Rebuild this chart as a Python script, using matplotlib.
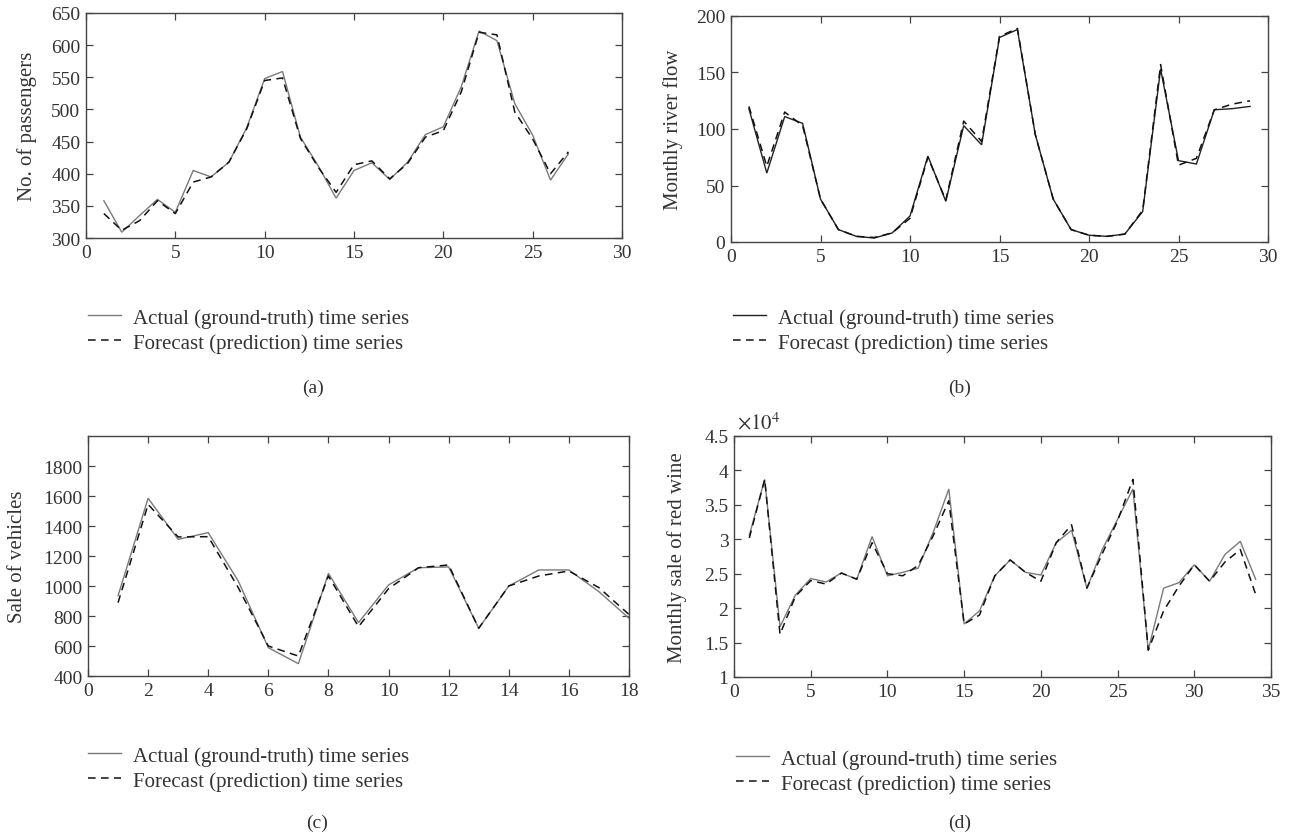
"""Actual vs forecast time series, four panels (a)-(d)."""
import matplotlib
matplotlib.use("Agg")
import matplotlib.pyplot as plt
from matplotlib.ticker import FuncFormatter

W, H = 1301, 837

# (a) airline passengers
a_x = list(range(1, 28))
a_actual = [358, 309, 335, 360, 340, 405, 395, 418, 472, 548, 559, 457, 412, 362,
            405, 417, 391, 418, 461, 473, 535, 622, 607, 509, 460, 390, 431]
a_forecast = [338, 312, 327, 358, 338, 387, 395, 418, 470, 545, 549, 455, 410, 371,
              414, 420, 392, 416, 457, 467, 527, 620, 616, 496, 454, 400, 434]

# (b) monthly river flow
b_x = list(range(1, 30))
b_actual = [118, 61, 111, 105, 38, 11, 5, 3.5, 8, 23, 76, 36, 103, 86, 181, 188, 95,
            38, 11, 6, 5, 7, 27, 153, 72, 69, 117, 118, 120]
b_forecast = [120, 67, 115, 103, 38, 11, 5, 4, 8, 21, 75, 37, 107, 89, 182, 189, 95,
              38, 11, 6, 5, 7, 28, 157, 68, 74, 117, 122, 125]

# (c) vehicle sales
c_x = list(range(1, 19))
c_actual = [935, 1585, 1311, 1356, 1033, 589, 482, 1084, 756, 1007, 1122, 1127, 718,
            1000, 1107, 1107, 962, 785]
c_forecast = [889, 1544, 1327, 1329, 989, 600, 533, 1067, 729, 982, 1122, 1140, 718,
              1000, 1067, 1100, 989, 810]

# (d) red wine sales
d_x = list(range(1, 35))
d_actual = [30600, 38700, 17300, 21900, 24300, 23800, 25100, 24200, 30400, 24700,
            25200, 25800, 31100, 37300, 17700, 19600, 24700, 27000, 25200, 24800,
            29500, 31300, 22900, 28500, 32900, 37300, 13900, 22900, 23700, 26300,
            23900, 27800, 29700, 24200]
d_forecast = [30200, 38700, 16200, 21700, 24000, 23500, 25100, 24200, 29500, 25000,
              24700, 26200, 30600, 35600, 17700, 19000, 24700, 27000, 25200, 23900,
              29500, 32100, 22900, 27900, 32700, 38700, 13900, 19600, 23200, 26300,
              23900, 26700, 28500, 22000]

LEG_LABELS = ["Actual (ground-truth) time series", "Forecast (prediction) time series"]

plt.rcParams["font.family"] = ["Liberation Serif", "DejaVu Serif"]
plt.rcParams["mathtext.fontset"] = "stix"
plt.rcParams["font.size"] = 14
TXT = "#333333"


def px_axes(fig, l, r, t, b):
    return fig.add_axes([l / W, 1 - b / H, (r - l) / W, (b - t) / H])


def style(ax):
    for s in ax.spines.values():
        s.set_color("#444444")
        s.set_linewidth(1.0)
    ax.tick_params(direction="in", top=True, right=True, length=5, width=0.9,
                   color="#444444", labelcolor=TXT, labelsize=14, pad=4)


def panel(fig, box, x, actual, forecast, actual_color, ylabel, ylabel_x,
          leg_xy, cap, cap_xy):
    ax = px_axes(fig, *box)
    la, = ax.plot(x, actual, color=actual_color, lw=1.0, solid_joinstyle="miter")
    lf, = ax.plot(x, forecast, color="#111111", lw=1.1, linestyle=(0, (5, 3.5)))
    style(ax)
    fig.text(ylabel_x / W, 1 - ((box[2] + box[3]) / 2) / H, ylabel, rotation=90,
             ha="center", va="center", color=TXT, fontsize=15)
    fig.legend([la, lf], LEG_LABELS, loc="upper left",
               bbox_to_anchor=(leg_xy[0] / W, 1 - leg_xy[1] / H),
               frameon=False, handlelength=1.6, handletextpad=0.55,
               labelspacing=0.25, borderpad=0, borderaxespad=0, fontsize=15,
               labelcolor=TXT)
    fig.text(cap_xy[0] / W, 1 - cap_xy[1] / H, cap, ha="center", va="center",
             color=TXT, fontsize=14)
    return ax


fig = plt.figure(figsize=(W / 100, H / 100), dpi=100)

ax_a = panel(fig, (86, 622, 14, 239), a_x, a_actual, a_forecast, "#7a7a7a",
             "No. of passengers", 27, (88, 309), "(a)", (313, 388))
ax_a.set_xlim(0, 30)
ax_a.set_ylim(300, 650)
ax_a.set_xticks(range(0, 31, 5))
ax_a.set_yticks(range(300, 651, 50))

ax_b = panel(fig, (731, 1268, 17, 243), b_x, b_actual, b_forecast, "#222222",
             "Monthly river flow", 673, (733, 309), "(b)", (960, 388))
ax_b.set_xlim(0, 30)
ax_b.set_ylim(0, 200)
ax_b.set_xticks(range(0, 31, 5))
ax_b.set_yticks(range(0, 201, 50))

ax_c = panel(fig, (88, 629, 437, 677), c_x, c_actual, c_forecast, "#7a7a7a",
             "Sale of vehicles", 18, (88, 747), "(c)", (317, 823))
ax_c.set_xlim(0, 18)
ax_c.set_ylim(400, 2000)
ax_c.set_xticks(range(0, 19, 2))
ax_c.set_yticks(range(400, 1801, 200))

ax_d = panel(fig, (734, 1271, 437, 678), d_x, d_actual, d_forecast, "#7a7a7a",
             "Monthly sale of red wine", 677, (736, 750), "(d)", (960, 823))
ax_d.set_xlim(0, 35)
ax_d.set_ylim(10000, 45000)
ax_d.set_xticks(range(0, 36, 5))
ax_d.set_yticks([v * 5000 for v in range(2, 10)])
ax_d.yaxis.set_major_formatter(FuncFormatter(lambda v, p: f"{v / 1e4:g}"))
fig.text(737 / W, 1 - 434 / H, r"$\times10^{4}$", ha="left", va="bottom",
         color=TXT, fontsize=15)

fig.savefig("out.png", dpi=100, facecolor="white")
